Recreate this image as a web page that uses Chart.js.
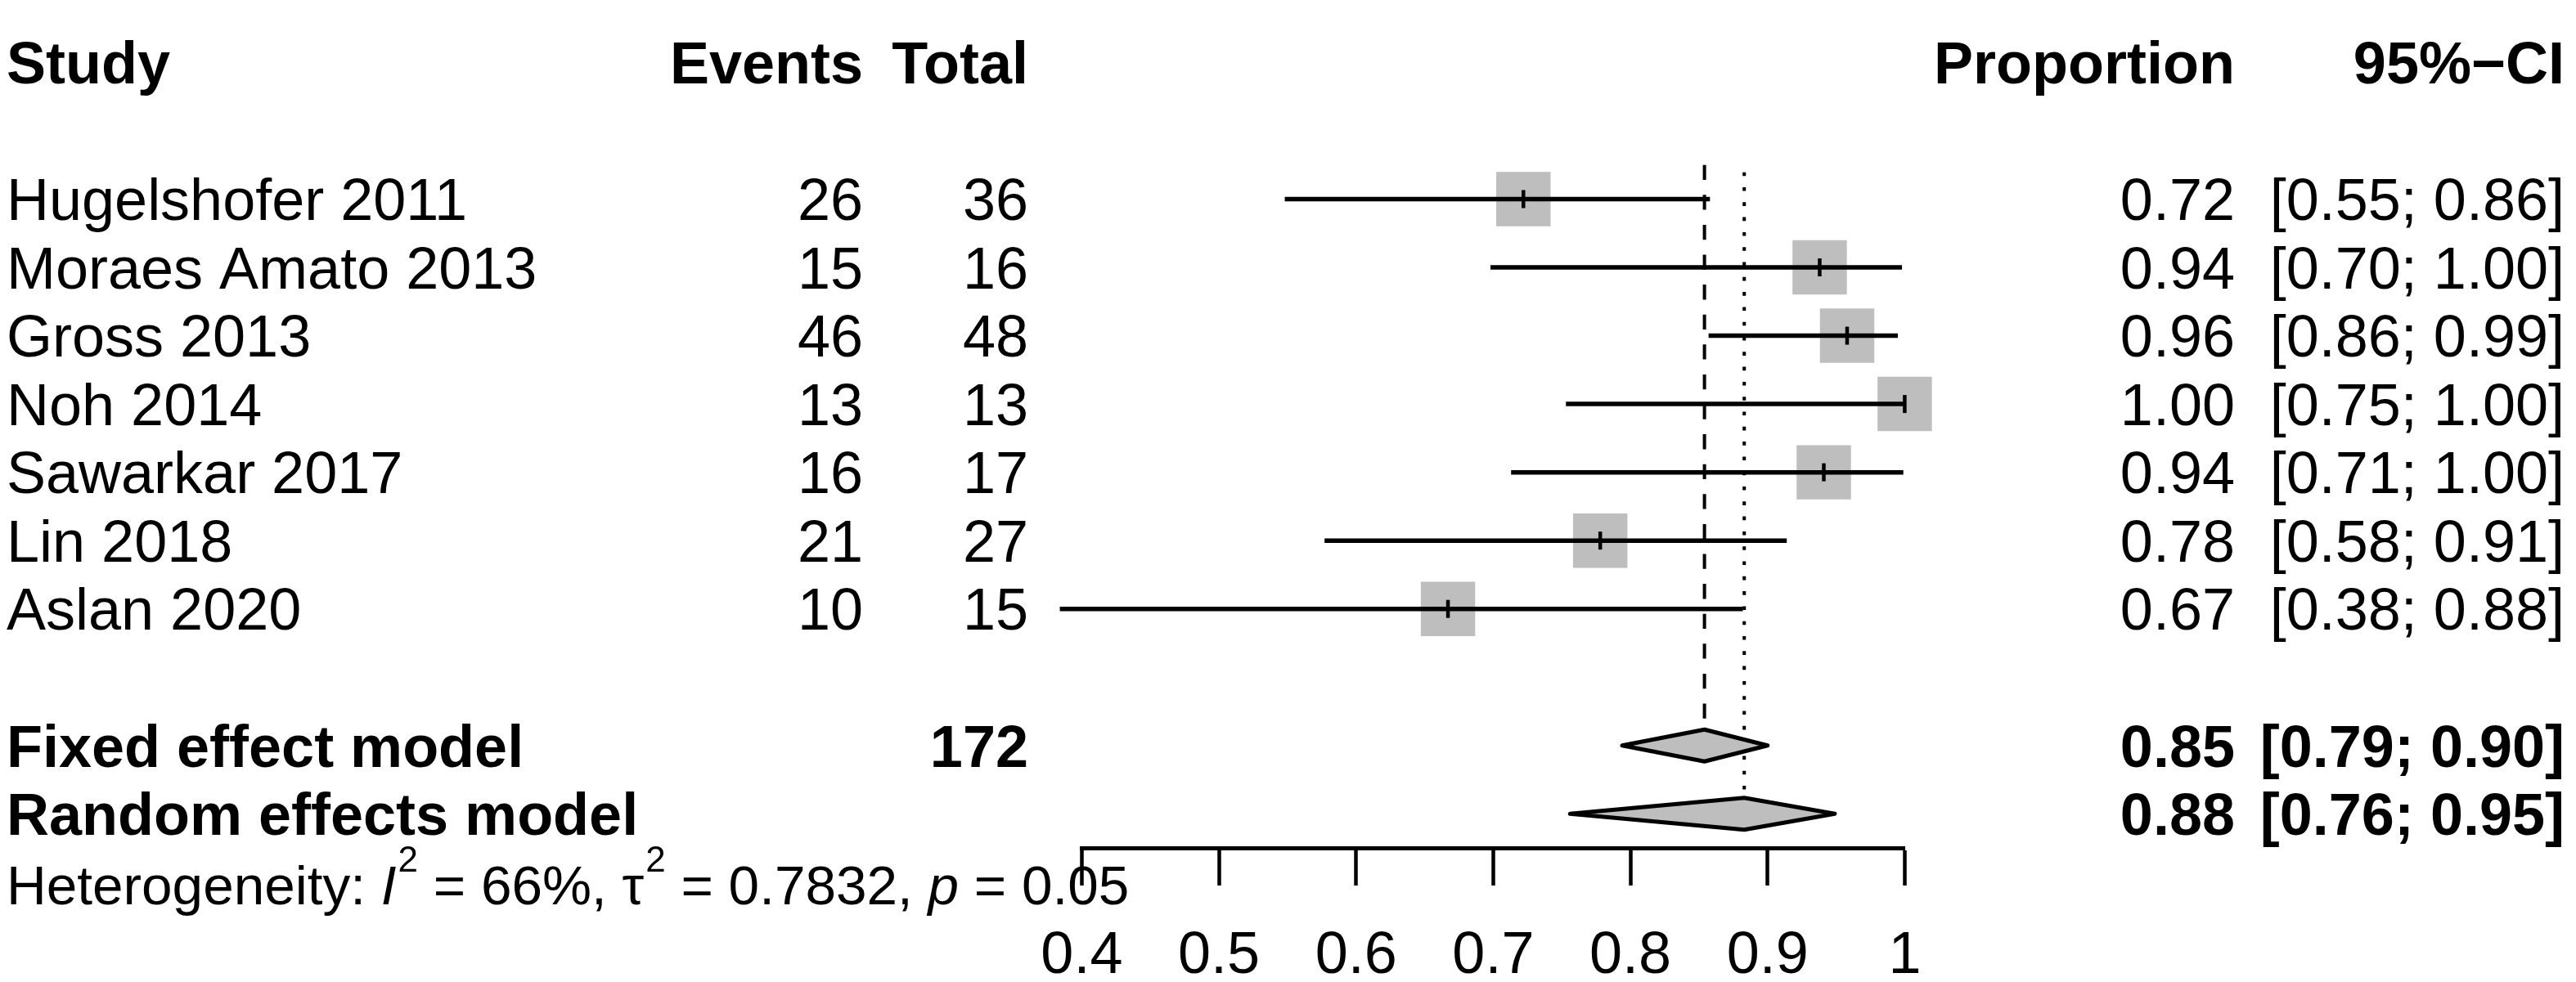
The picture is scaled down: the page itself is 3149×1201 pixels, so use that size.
<!DOCTYPE html>
<html>
<head>
<meta charset="utf-8">
<title>Forest plot</title>
<script src="https://cdn.jsdelivr.net/npm/chart.js@4.4.1/dist/chart.umd.min.js"></script>
<style>
  html, body { margin: 0; padding: 0; background: #fff; }
  canvas { display: block; }
</style>
</head>
<body>
<canvas id="forest" width="3149" height="1201" style="width:3149px;height:1201px"></canvas>
<script>
/* globals Chart:false */

// Study data
const studies = ['Hugelshofer 2011', 'Moraes Amato 2013', 'Gross 2013', 'Noh 2014',
  'Sawarkar 2017', 'Lin 2018', 'Aslan 2020']
const events = [26, 15, 46, 13, 16, 21, 10]
const totals = [36, 16, 48, 13, 17, 27, 15]
const proportions = [0.722, 0.938, 0.958, 1.0, 0.941, 0.778, 0.667]
const ciLower = [0.548, 0.698, 0.857, 0.753, 0.713, 0.577, 0.384]
const ciUpper = [0.858, 0.998, 0.995, 1.0, 0.999, 0.914, 0.882]
const proportionLabels = ['0.72', '0.94', '0.96', '1.00', '0.94', '0.78', '0.67']
const ciLabels = ['[0.55; 0.86]', '[0.70; 1.00]', '[0.86; 0.99]', '[0.75; 1.00]',
  '[0.71; 1.00]', '[0.58; 0.91]', '[0.38; 0.88]']

// Pooled estimates (fixed, random)
const pooledNames = ['Fixed effect model', 'Random effects model']
const pooledEstimate = [0.854, 0.883]
const pooledLower = [0.794, 0.756]
const pooledUpper = [0.900, 0.949]
const pooledProportionLabels = ['0.85', '0.88']
const pooledCiLabels = ['[0.79; 0.90]', '[0.76; 0.95]']
const totalSum = '172'

// Axis
const tickValues = [0.4, 0.5, 0.6, 0.7, 0.8, 0.9, 1]
const tickLabels = ['0.4', '0.5', '0.6', '0.7', '0.8', '0.9', '1']

// Heterogeneity statistics
const hetI2 = '66%'
const hetTau2 = '0.7832'
const hetP = '0.05'

// Layout (row indices on the hidden y scale)
const headerRow = -2
const firstStudyRow = 0
const pooledFirstRow = 8
const hetRow = 10
const diamondHalf = 19.5 // px
const FONT = '"Liberation Sans", Arial, Helvetica, sans-serif'
const FS = 72
const col = { left: 8, events: 1055, total: 1257, prop: 2732, ci: 3135 }
const grey = '#bebebe'

const studyRows = studies.map((_, i) => firstStudyRow + i)
const pooledRows = pooledNames.map((_, i) => pooledFirstRow + i)
// diamond half height expressed in row units (row height 87.5 px)
const halfRows = diamondHalf / 87.5

const ciDatasets = studies.map((s, i) => ({
  type: 'scatter',
  label: s + ' CI',
  data: [{ x: ciLower[i], y: studyRows[i] }, { x: ciUpper[i], y: studyRows[i] }],
  showLine: true,
  borderColor: '#000',
  borderWidth: 5.5,
  borderCapStyle: 'butt',
  pointRadius: 0,
  clip: false,
  order: 2
}))

const refLines = [
  {
    type: 'scatter',
    label: 'fixed line',
    data: [{ x: pooledEstimate[0], y: firstStudyRow - 0.5 }, { x: pooledEstimate[0], y: pooledRows[0] - halfRows }],
    showLine: true,
    borderColor: '#000',
    borderWidth: 4,
    borderDash: [18.3, 18.3],
    pointRadius: 0,
    clip: false,
    order: 4
  },
  {
    type: 'scatter',
    label: 'random line',
    data: [{ x: pooledEstimate[1], y: firstStudyRow - 0.5 }, { x: pooledEstimate[1], y: pooledRows[1] - halfRows }],
    showLine: true,
    borderColor: '#000',
    borderWidth: 4,
    borderDash: [4.6, 13.7],
    borderDashOffset: -9,
    pointRadius: 0,
    clip: false,
    order: 4
  }
]

function drawText (ctx, str, x, y, align, bold, size, italic) {
  ctx.font = (italic ? 'italic ' : '') + (bold ? 'bold ' : '') + size + 'px ' + FONT
  ctx.textAlign = align
  ctx.textBaseline = 'alphabetic'
  ctx.fillStyle = '#000'
  ctx.fillText(str, x, y)
  return ctx.measureText(str).width
}

const forestPlugin = {
  id: 'forest',
  afterDatasetsDraw (chart) {
    const { ctx, scales: { x, y } } = chart
    ctx.save()
    pooledNames.forEach((_, i) => {
      const cy = y.getPixelForValue(pooledRows[i])
      ctx.beginPath()
      ctx.moveTo(x.getPixelForValue(pooledLower[i]), cy)
      ctx.lineTo(x.getPixelForValue(pooledEstimate[i]), cy - diamondHalf)
      ctx.lineTo(x.getPixelForValue(pooledUpper[i]), cy)
      ctx.lineTo(x.getPixelForValue(pooledEstimate[i]), cy + diamondHalf)
      ctx.closePath()
      ctx.fillStyle = grey
      ctx.fill()
      ctx.lineWidth = 5
      ctx.lineJoin = 'round'
      ctx.strokeStyle = '#000'
      ctx.stroke()
    })
    ctx.restore()
  },
  afterDraw (chart) {
    const { ctx, scales: { y } } = chart
    const base = r => y.getPixelForValue(r) + 0.358 * FS
    ctx.save()
    // header
    const hy = base(headerRow)
    drawText(ctx, 'Study', col.left, hy, 'left', true, FS)
    drawText(ctx, 'Events', col.events, hy, 'right', true, FS)
    drawText(ctx, 'Total', col.total, hy, 'right', true, FS)
    drawText(ctx, 'Proportion', col.prop, hy, 'right', true, FS)
    drawText(ctx, '95%\u2212CI', col.ci, hy, 'right', true, FS)
    // studies
    studies.forEach((s, i) => {
      const ty = base(studyRows[i])
      drawText(ctx, s, col.left, ty, 'left', false, FS)
      drawText(ctx, String(events[i]), col.events, ty, 'right', false, FS)
      drawText(ctx, String(totals[i]), col.total, ty, 'right', false, FS)
      drawText(ctx, proportionLabels[i], col.prop, ty, 'right', false, FS)
      drawText(ctx, ciLabels[i], col.ci, ty, 'right', false, FS)
    })
    // pooled
    pooledNames.forEach((s, i) => {
      const ty = base(pooledRows[i])
      drawText(ctx, s, col.left, ty, 'left', true, FS)
      if (i === 0) drawText(ctx, totalSum, col.total, ty, 'right', true, FS)
      drawText(ctx, pooledProportionLabels[i], col.prop, ty, 'right', true, FS)
      drawText(ctx, pooledCiLabels[i], col.ci, ty, 'right', true, FS)
    })
    // heterogeneity line
    const hs = 67.5
    const sup = Math.round(hs * 0.65)
    const hb = y.getPixelForValue(hetRow) + 0.358 * hs + 3
    const supY = hb - 0.6 * hs
    let cx = col.left
    cx += drawText(ctx, 'Heterogeneity: ', cx, hb, 'left', false, hs)
    cx += drawText(ctx, 'I', cx, hb, 'left', false, hs, true)
    cx += drawText(ctx, '2', cx + 2, supY, 'left', false, sup) + 2
    cx += drawText(ctx, ' = ' + hetI2 + ', ', cx, hb, 'left', false, hs)
    cx += drawText(ctx, '\u03c4', cx, hb, 'left', false, hs)
    cx += drawText(ctx, '2', cx + 2, supY, 'left', false, sup) + 2
    cx += drawText(ctx, ' = ' + hetTau2 + ', ', cx, hb, 'left', false, hs)
    cx += drawText(ctx, 'p', cx, hb, 'left', false, hs, true)
    drawText(ctx, ' = ' + hetP, cx, hb, 'left', false, hs)
    ctx.restore()
  }
}

const ctx = document.getElementById('forest')
// eslint-disable-next-line no-unused-vars
const forest = new Chart(ctx, {
  type: 'scatter',
  data: {
    datasets: [
      {
        label: 'weights',
        data: studies.map((_, i) => ({ x: proportions[i], y: studyRows[i] })),
        pointStyle: 'rect',
        pointRadius: 47,
        pointBorderWidth: 0,
        pointBackgroundColor: grey,
        clip: false,
        order: 3
      },
      ...ciDatasets,
      {
        label: 'estimates',
        data: studies.map((_, i) => ({ x: proportions[i], y: studyRows[i] })),
        pointStyle: 'line',
        pointRotation: 90,
        pointRadius: 11,
        pointBorderWidth: 4.5,
        pointBorderColor: '#000',
        clip: false,
        order: 1
      },
      ...refLines
    ]
  },
  options: {
    responsive: false,
    devicePixelRatio: 1,
    animation: false,
    events: [],
    layout: { padding: { left: 1322.4, right: 820.6, top: 0, bottom: 0 } },
    plugins: {
      legend: { display: false },
      tooltip: { enabled: false }
    },
    scales: {
      x: {
        type: 'linear',
        position: 'bottom',
        min: 0.4,
        max: 1,
        afterBuildTicks: s => { s.ticks = tickValues.map(v => ({ value: v })) },
        afterFit: s => { s.height = 164 },
        grid: {
          drawOnChartArea: false,
          drawTicks: true,
          tickLength: 46,
          tickWidth: 4.5,
          tickColor: '#000'
        },
        border: { display: true, color: '#000', width: 5 },
        ticks: {
          autoSkip: false,
          maxRotation: 0,
          padding: 44,
          color: '#000',
          font: { family: FONT, size: FS, lineHeight: 1.2 },
          callback: (v, i) => tickLabels[i]
        }
      },
      y: {
        type: 'linear',
        display: false,
        reverse: true,
        min: -2.352,
        max: 9.499
      }
    }
  },
  plugins: [forestPlugin]
})
</script>
</body>
</html>
